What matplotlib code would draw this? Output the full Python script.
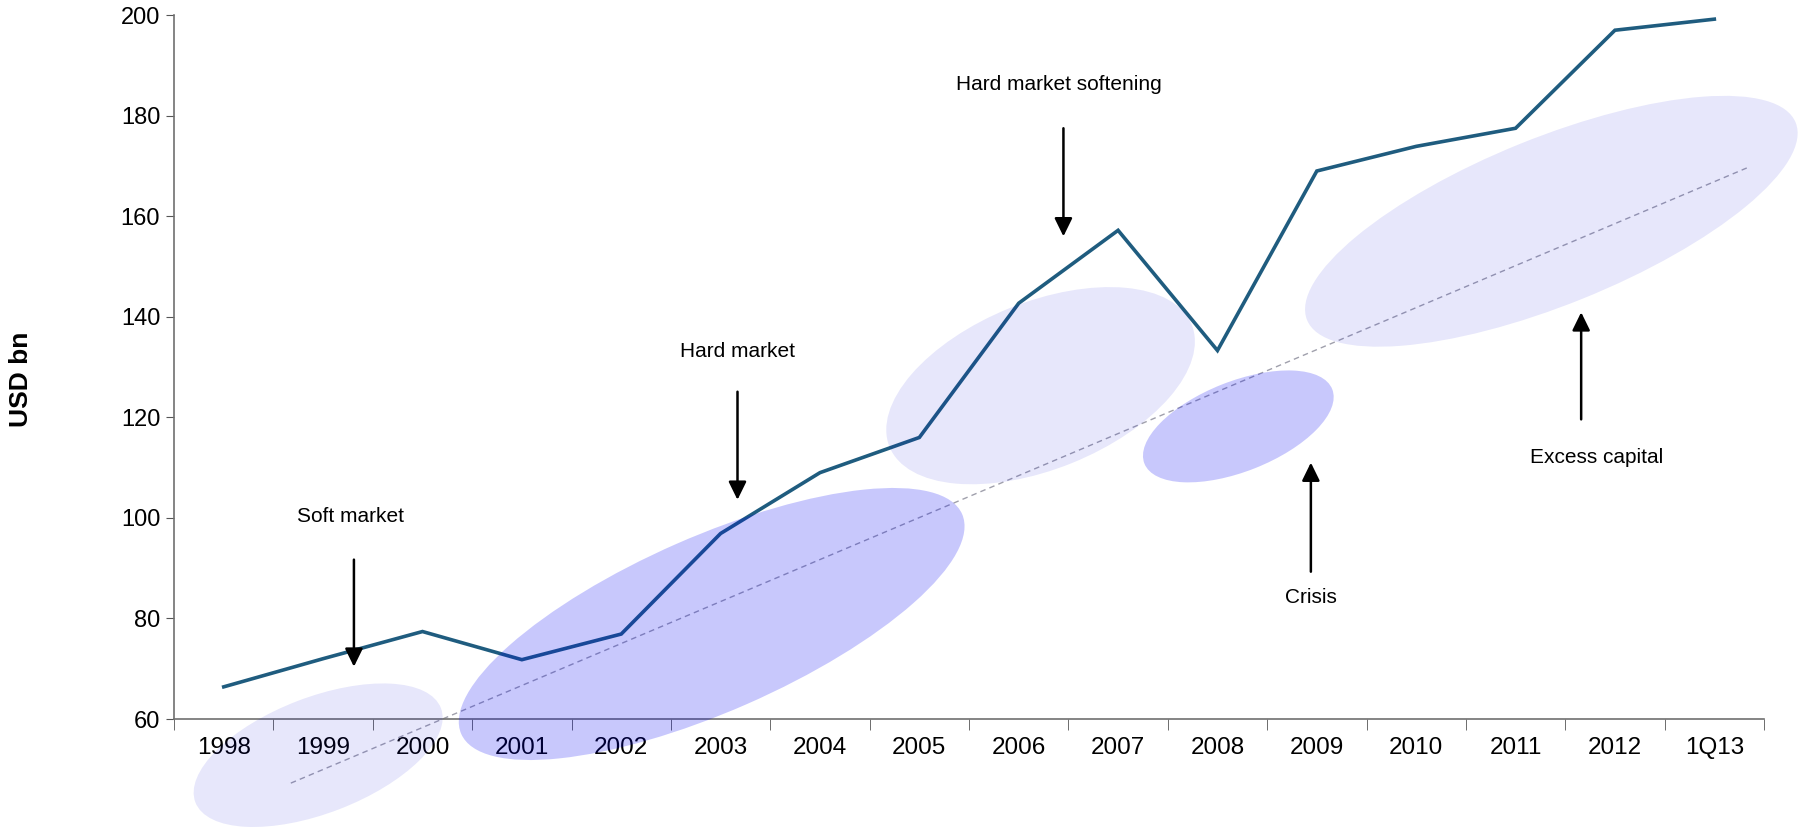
import matplotlib
matplotlib.use("Agg")
import matplotlib.pyplot as plt
from matplotlib.patches import Ellipse
from matplotlib.transforms import ScaledTranslation

plt.rcParams['font.family'] = ['Liberation Sans', 'DejaVu Sans']

# global reinsurance capital, USD bn
years = ['1998', '1999', '2000', '2001', '2002', '2003', '2004', '2005',
         '2006', '2007', '2008', '2009', '2010', '2011', '2012', '1Q13']
capital = [66.4, 72.0, 77.4, 71.8, 76.9, 96.9, 109.0, 116.0,
           142.7, 157.2, 133.3, 169.0, 173.9, 177.5, 197.0, 199.2]

# market phase notes: label, text pos (x idx, y), arrow tail y, arrow tip y
notes = ['Soft market', 'Hard market', 'Hard market softening', 'Crisis', 'Excess capital']
note_x = [1.28, 5.17, 8.40, 10.94, 13.82]
note_y = [100.2, 133.1, 186.3, 84.1, 112.0]
arrow_x = [1.31, 5.17, 8.45, 10.94, 13.66]
arrow_from = [91.7, 125.1, 177.5, 89.3, 119.6]
arrow_to = [70.4, 103.6, 156.0, 111.0, 140.9]

# phase bubbles: centre (x idx, y), size in px, tilt, shade
bub_x = [0.95, 4.91, 8.22, 10.21, 13.36]
bub_y = [52.8, 78.9, 126.3, 118.2, 159.0]
bub_w = [263, 547, 326, 202, 527]
bub_h = [116, 175, 167, 90, 167]
bub_ang = [21, 23.7, 22, 21.6, 22]
bub_dark = [False, True, False, True, False]

# dashed trend guide
trend_x = [0.675, 15.35]
trend_y = [47.25, 169.8]

fig = plt.figure(figsize=(18, 8.32), dpi=100)
ax = fig.add_axes([0.0967, 0.1358, 0.8833, 0.846])

xs = list(range(len(years)))
ax.plot(xs, capital, color='#1f5c7f', lw=2.6, solid_joinstyle='miter', zorder=3)
ax.plot(trend_x, trend_y, color='#a0a0ac', lw=1.0, ls=(0, (4, 3)), clip_on=False, zorder=2)

ax.set_xlim(-0.5, len(years) - 0.5)
ax.set_ylim(60, 200)
ax.set_yticks(range(60, 201, 20))
ax.set_xticks(xs)
ax.set_xticklabels(years)
ax.set_xticks([i - 0.5 for i in range(len(years) + 1)], minor=True)
ax.tick_params(axis='x', which='major', length=0, pad=13, labelsize=17.5)
ax.tick_params(axis='x', which='minor', length=8, direction='out', color='#555555')
ax.tick_params(axis='y', length=6, pad=4, labelsize=17, color='#555555')

for s in ['top', 'right']:
    ax.spines[s].set_visible(False)
for s in ['left', 'bottom']:
    ax.spines[s].set_color('#707070')
    ax.spines[s].set_linewidth(1.2)

for i in range(len(notes)):
    ax.text(note_x[i], note_y[i], notes[i], ha='center', va='center', fontsize=15)
    ax.annotate('', xy=(arrow_x[i], arrow_to[i]), xytext=(arrow_x[i], arrow_from[i]),
                arrowprops=dict(arrowstyle='-|>,head_length=0.55,head_width=0.27',
                                color='black', lw=1.8, mutation_scale=20,
                                shrinkA=0, shrinkB=0))

for i in range(len(bub_x)):
    if bub_dark[i]:
        fc, a = (0.0, 0.0, 0.96), 0.215
    else:
        fc, a = (0.0, 0.0, 0.85), 0.095
    e = Ellipse((0, 0), bub_w[i] / 100.0, bub_h[i] / 100.0, angle=bub_ang[i],
                transform=fig.dpi_scale_trans + ScaledTranslation(bub_x[i], bub_y[i], ax.transData),
                facecolor=fc, alpha=a, edgecolor='none', clip_on=False, zorder=5)
    ax.add_artist(e)

fig.text(21 / 1800, 1 - 379 / 832, 'USD bn', rotation=90, ha='center', va='center',
         fontsize=19, fontweight='bold', family=['Liberation Sans Narrow', 'Liberation Sans'])

fig.savefig('out.png', dpi=100)
